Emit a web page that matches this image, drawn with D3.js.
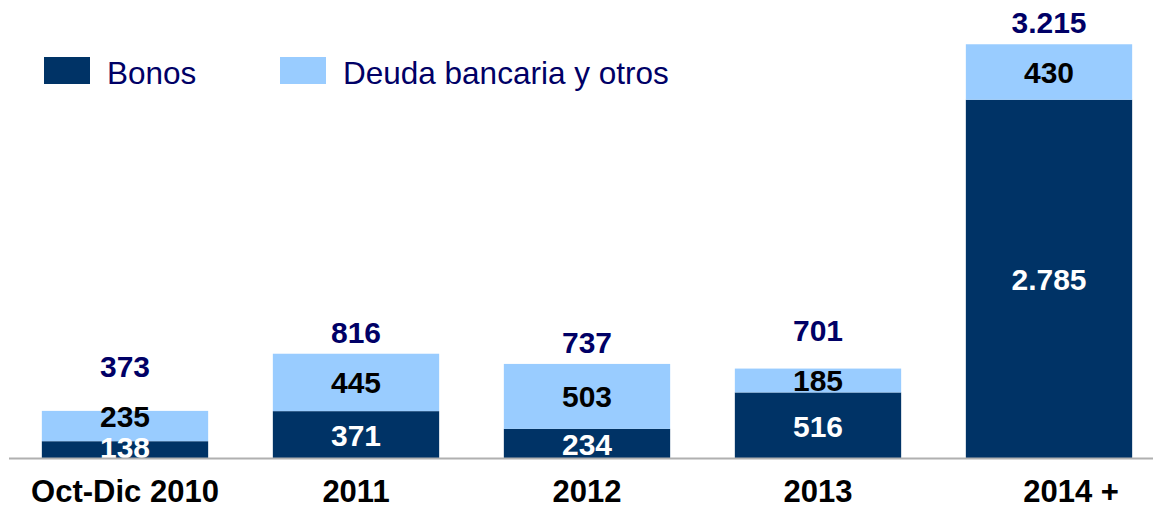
<!DOCTYPE html>
<html>
<head>
<meta charset="utf-8">
<script src="https://cdn.jsdelivr.net/npm/d3@7"></script>
<style>
  html, body { margin: 0; padding: 0; background: #ffffff; }
  svg { display: block; }
  text { font-family: "Liberation Sans", Arial, sans-serif; }
</style>
</head>
<body>
<svg id="chart" width="1153" height="509"></svg>
<script>
// ---- Data ----
const categories = ["Oct-Dic 2010", "2011", "2012", "2013", "2014 +"];
const bonos = [138, 371, 234, 516, 2785];
const deuda = [235, 445, 503, 185, 430];
const totals = [373, 816, 737, 701, 3215];
const seriesNames = ["Bonos", "Deuda bancaria y otros"];

// ---- Styles ----
const colors = { bonos: "#003366", deuda: "#99CCFF", navy: "#000066" };
const W = 1153, H = 509;
const baseline = 459;

const svg = d3.select("#chart");

const x = d3.scaleBand()
  .domain(categories)
  .range([9.5, 1164.5])
  .paddingInner(0.28)
  .paddingOuter(0.14);

const y = d3.scaleLinear()
  .domain([0, 3500])
  .range([baseline, 7.5]);

const fmt = v => d3.format(",")(v).replace(/,/g, ".");

const rows = categories.map((c, i) => ({ cat: c, bonos: bonos[i], deuda: deuda[i], total: totals[i] }));
const stack = d3.stack().keys(["bonos", "deuda"])(rows);

// bars
const g = svg.append("g");
stack.forEach(layer => {
  g.selectAll(null)
    .data(layer)
    .join("rect")
    .attr("x", d => x(d.data.cat))
    .attr("y", d => y(d[1]))
    .attr("width", x.bandwidth())
    .attr("height", d => y(d[0]) - y(d[1]))
    .attr("fill", colors[layer.key]);
});

// baseline
svg.append("line")
  .attr("x1", 9).attr("x2", W)
  .attr("y1", baseline - 0.5).attr("y2", baseline - 0.5)
  .attr("stroke", "#b0b0b0").attr("stroke-width", 2);

// segment labels
const darkLabelY = d => Math.min((y(d[0]) + y(d[1])) / 2, baseline - 12);
const lightLabelY = (d, i) => Math.min((y(d[0]) + y(d[1])) / 2, darkLabelY(stack[0][i]) - 31);

stack.forEach(layer => {
  g.selectAll(null)
    .data(layer)
    .join("text")
    .attr("x", d => x(d.data.cat) + x.bandwidth() / 2)
    .attr("y", (d, i) => layer.key === "bonos" ? darkLabelY(d) : lightLabelY(d, i))
    .attr("dy", "0.36em")
    .attr("text-anchor", "middle")
    .attr("font-size", 30)
    .attr("font-weight", "bold")
    .attr("fill", layer.key === "bonos" ? "#ffffff" : "#000000")
    .text(d => fmt(d.data[layer.key]));
});

// totals
svg.selectAll(null)
  .data(rows)
  .join("text")
  .attr("x", d => x(d.cat) + x.bandwidth() / 2)
  .attr("y", (d, i) => Math.min(y(d.total) - 22, lightLabelY(stack[1][i], i) - 50))
  .attr("dy", "0.36em")
  .attr("text-anchor", "middle")
  .attr("font-size", 30)
  .attr("font-weight", "bold")
  .attr("fill", colors.navy)
  .text(d => fmt(d.total));

// x axis labels
const xAxis = d3.axisBottom(x).tickSize(0).tickPadding(0);
const ax = svg.append("g").attr("transform", `translate(0,${baseline})`).call(xAxis);
ax.select(".domain").remove();
ax.selectAll("text")
  .attr("y", 43)
  .attr("dy", 0)
  .attr("dx", (d, i) => i === categories.length - 1 ? 22 : 0)
  .attr("font-size", 31)
  .attr("font-weight", "bold")
  .attr("fill", "#000000")
  .style("font-family", '"Liberation Sans", Arial, sans-serif');

// legend
const legend = svg.append("g");
const legendItems = [
  { name: seriesNames[0], color: colors.bonos, x: 44 },
  { name: seriesNames[1], color: colors.deuda, x: 280 }
];
legendItems.forEach(it => {
  legend.append("rect")
    .attr("x", it.x).attr("y", 57)
    .attr("width", 46).attr("height", 27)
    .attr("fill", it.color);
  legend.append("text")
    .attr("x", it.x + 63).attr("y", 83.5)
    .attr("font-size", 31.5)
    .attr("fill", colors.navy)
    .text(it.name);
});
</script>
</body>
</html>
